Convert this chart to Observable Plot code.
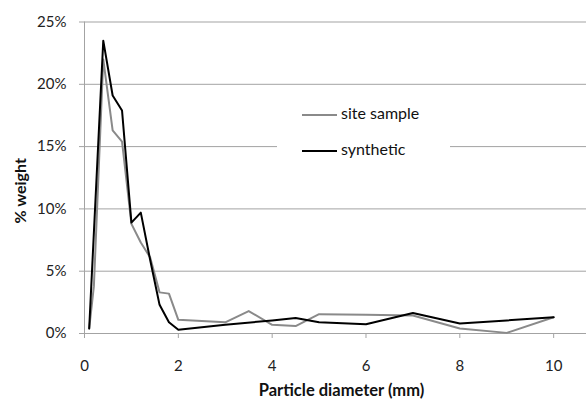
<!DOCTYPE html>
<html><head><meta charset="utf-8">
<script src="https://cdn.jsdelivr.net/npm/d3@7"></script>
<script src="https://cdn.jsdelivr.net/npm/@observablehq/plot@0.6"></script>
<style>
body{margin:0;background:#fff;font-family:Lato,"Open Sans",sans-serif;}
#wrap{position:relative;width:586px;height:400px;overflow:hidden}
#legend{position:absolute;left:277px;top:94px;width:173px;height:72px;background:#fff;font-family:Lato,sans-serif;font-size:16px;color:#111}
.item{position:absolute;left:25px;height:20px;line-height:20px;white-space:nowrap}
.sw{display:inline-block;width:35px;height:0;vertical-align:middle;margin-right:4px}
</style></head><body>
<div id="wrap"></div>
<script>
// Data
const siteX = [0.1, 0.2, 0.4, 0.6, 0.8, 1.0, 1.2, 1.4, 1.6, 1.8, 2.0, 2.5, 3.0, 3.5, 4.0, 4.5, 5.0, 6.0, 7.0, 8.0, 9.0, 10.0];
const siteY = [0.4, 3.8, 22.0, 16.3, 15.4, 8.8, 7.3, 6.1, 3.3, 3.2, 1.1, 1.0, 0.9, 1.8, 0.7, 0.6, 1.55, 1.5, 1.45, 0.4, 0.05, 1.3];
const synX = [0.1, 0.4, 0.6, 0.8, 1.0, 1.2, 1.4, 1.6, 1.8, 2.0, 3.0, 4.0, 4.5, 5.0, 6.0, 7.0, 8.0, 9.0, 10.0];
const synY = [0.4, 23.5, 19.1, 17.9, 8.9, 9.7, 5.9, 2.3, 0.9, 0.3, 0.7, 1.05, 1.25, 0.9, 0.75, 1.65, 0.8, 1.05, 1.3];
const seriesNames = ["site sample", "synthetic"];
const xTicks = [0, 2, 4, 6, 8, 10];
const yTicks = [0, 5, 10, 15, 20, 25];
const xTitle = "Particle diameter (mm)";
const yTitle = "% weight";

const siteRows = siteX.map((x, i) => ({x, y: siteY[i]}));
const synRows = synX.map((x, i) => ({x, y: synY[i]}));
const grid = "#a3a3a3";

const chart = Plot.plot({
  width: 586, height: 400,
  marginLeft: 84, marginRight: 0, marginTop: 21.5, marginBottom: 67,
  style: {fontFamily: "Lato, sans-serif", fontSize: "15px", color: "#222", background: "#fff"},
  x: {domain: [0, 10.7]},
  y: {domain: [0, 25]},
  marks: [
    Plot.ruleY(yTicks, {stroke: grid, strokeWidth: 1}),
    Plot.ruleX([0], {stroke: grid, strokeWidth: 1}),
    Plot.axisY({ticks: yTicks, tickFormat: d => d + "%", tickSize: 5, tickPadding: 13, stroke: grid, strokeOpacity: 1, label: null}),
    Plot.axisX({ticks: xTicks, tickSize: 5, tickPadding: 22, stroke: grid, strokeOpacity: 1, label: null}),
    Plot.line(siteRows, {x: "x", y: "y", stroke: "#8a8a8a", strokeWidth: 2}),
    Plot.line(synRows, {x: "x", y: "y", stroke: "#000", strokeWidth: 2}),
    Plot.text([yTitle], {frameAnchor: "left", text: d => d, rotate: -90, dx: -64, dy: 13, textAnchor: "middle", lineAnchor: "middle", fontWeight: "bold", fontSize: 16, fill: "#111"}),
    Plot.text([xTitle], {frameAnchor: "bottom", text: d => d, dx: 6, dy: 57, textAnchor: "middle", lineAnchor: "middle", fontWeight: "bold", fontSize: 16.5, fill: "#111"})
  ]
});
const wrap = document.getElementById("wrap");
wrap.appendChild(chart);

const legend = document.createElement("div");
legend.id = "legend";
const colors = ["#8a8a8a", "#000"];
seriesNames.forEach((name, i) => {
  const it = document.createElement("div");
  it.className = "item";
  it.style.top = (9 + i * 36) + "px";
  it.innerHTML = `<span class="sw" style="border-top:2px solid ${colors[i]}"></span>${name}`;
  legend.appendChild(it);
});
wrap.appendChild(legend);
</script>
</body></html>
